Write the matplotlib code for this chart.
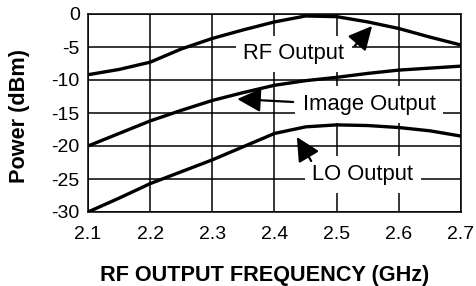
import matplotlib
matplotlib.use("Agg")
import matplotlib.pyplot as plt

plt.rcParams['font.family'] = ['Liberation Sans', 'DejaVu Sans']
plt.rcParams['axes.unicode_minus'] = False

freq = [2.1, 2.15, 2.2, 2.25, 2.3, 2.35, 2.4, 2.45, 2.5, 2.55, 2.6, 2.65, 2.7]
rf_output = [-9.2, -8.4, -7.3, -5.3, -3.7, -2.4, -1.2, -0.3, -0.4, -1.2, -2.2, -3.5, -4.7]
image_output = [-20.0, -18.1, -16.2, -14.6, -13.1, -11.9, -10.8, -10.1, -9.6, -9.0, -8.5, -8.2, -7.9]
lo_output = [-30.0, -27.9, -25.7, -23.9, -22.1, -20.1, -18.1, -17.1, -16.8, -16.9, -17.2, -17.7, -18.5]

xticks = [2.1, 2.2, 2.3, 2.4, 2.5, 2.6, 2.7]
xtick_labels = ['2.1', '2.2', '2.3', '2.4', '2.5', '2.6', '2.7']
yticks = [0, -5, -10, -15, -20, -25, -30]
ytick_labels = ['0', '-5', '-10', '-15', '-20', '-25', '-30']

labels = ['RF Output', 'Image Output', 'LO Output']
label_pos = [(2.431, -6.86), (2.552, -14.55), (2.542, -25.15)]
arrow_tail = [(2.529, -4.85), (2.430, -13.33), (2.459, -22.27)]
arrow_tip = [(2.557, -1.82), (2.340, -12.88), (2.436, -18.64)]

fig = plt.figure(figsize=(4.77, 2.86), dpi=100)
ax = fig.add_axes([88/477, 1 - 212/286, (461-88)/477, (212-14)/286])

ax.set_xlim(2.1, 2.7)
ax.set_ylim(-30, 0)
ax.set_xticks(xticks)
ax.set_xticklabels(xtick_labels)
ax.set_yticks(yticks)
ax.set_yticklabels(ytick_labels)
ax.tick_params(length=0, labelsize=14, colors='black')
ax.tick_params(axis='x', pad=10)
ax.tick_params(axis='y', pad=6)
ax.grid(True, color='black', lw=1.1, zorder=0)
for s in ax.spines.values():
    s.set_linewidth(1.1)
    s.set_color('black')

for series in (rf_output, image_output, lo_output):
    ax.plot(freq, series, color='black', lw=2.4, zorder=3, solid_capstyle='butt')

for lab, pos in zip(labels, label_pos):
    ax.text(pos[0], pos[1], lab, ha='center', va='baseline', fontsize=15.8,
            zorder=2, bbox=dict(boxstyle='square,pad=0.35', fc='white', ec='none'))

for tail, tip in zip(arrow_tail, arrow_tip):
    ax.annotate('', xy=tip, xytext=tail, zorder=4,
                arrowprops=dict(arrowstyle='-|>,head_length=0.8,head_width=0.4',
                                mutation_scale=18, lw=1.6, color='black',
                                shrinkA=0, shrinkB=0))

fig.text(265/477, 1 - 276/286, 'RF OUTPUT FREQUENCY (GHz)', ha='center', va='center',
         fontsize=15.6, fontweight='bold')
fig.text(20/477, 1 - 116/286, 'Power (dBm)', ha='center', va='center', rotation=90,
         fontsize=15.6, fontweight='bold')

fig.savefig('out.png', dpi=100)
